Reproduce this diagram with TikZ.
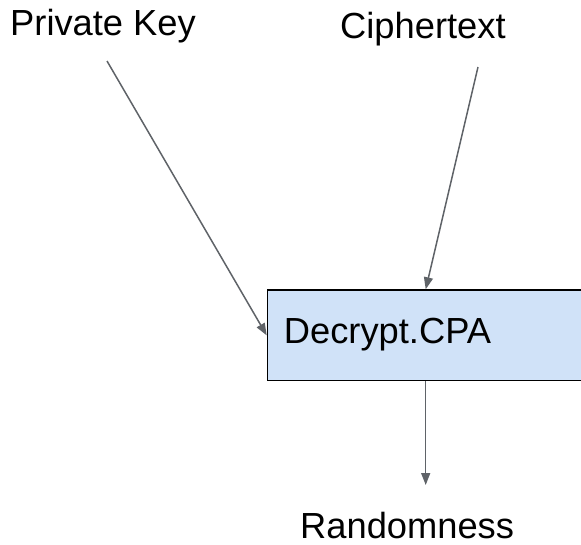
\documentclass[tikz,border=0pt]{standalone}
\usepackage{fontspec}
\setmainfont{Liberation Sans}
\usetikzlibrary{arrows.meta}
\definecolor{boxfill}{HTML}{D0E2F8}
\definecolor{wire}{HTML}{5F6368}
\begin{document}
\begin{tikzpicture}[x=1pt,y=-1pt,
  lbl/.style={anchor=base west, inner sep=0pt, font=\fontsize{36.3}{40}\selectfont},
  procbox/.style={draw=black, line width=1.4pt, fill=boxfill, anchor=north west,
    minimum height=90.7pt, text width=300pt, align=left, inner xsep=16.5pt,
    text height=16pt, text depth=0pt, font=\fontsize{36.3}{40}\selectfont},
  wirearrow/.style={draw=wire, line width=1.5pt, -{Triangle[length=12pt,width=9pt]}}]
  \useasboundingbox (0,0) rectangle (581,544);
  \clip (0,0) rectangle (581,544);

  % inputs and output
  \node[lbl] (pk) at (10,35) {Private Key};
  \node[lbl] (ct) at (340,38) {Ciphertext};
  \node[lbl] (rand) at (300,538) {Randomness};

  % decryption block
  \node[procbox] (dec) at (266.7,289.3) {Decrypt.CPA};

  % connector end points
  \coordinate (pk-tail) at (107,61);
  \coordinate (ct-tail) at (478,67);
  \path (dec.north west) ++(159,0) coordinate (dec-in);
  \path (dec.south west) ++(159,0) coordinate (dec-out);
  \coordinate (rand-head) at (425.7,485);

  \draw[wirearrow] (pk-tail) -- (dec.west);
  \draw[wirearrow] (ct-tail) -- (dec-in);
  \draw[wirearrow] (dec-out) -- (rand-head);
\end{tikzpicture}
\end{document}
